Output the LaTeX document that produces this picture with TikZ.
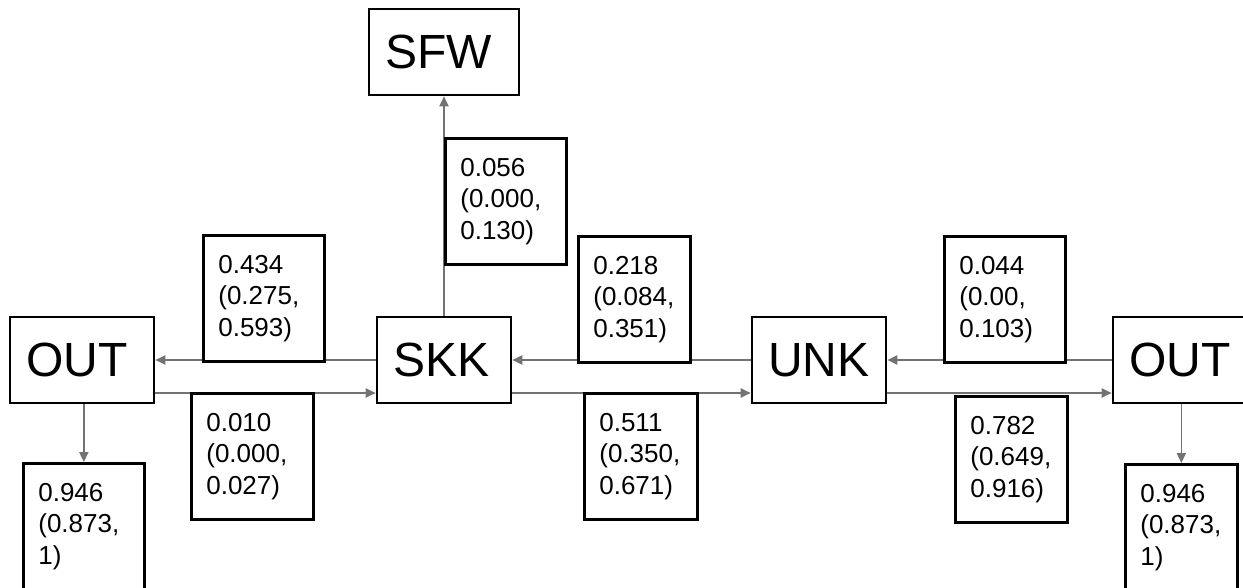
\documentclass[tikz,border=0pt]{standalone}
\usepackage{fontspec}
\setmainfont{Liberation Sans}
\usetikzlibrary{arrows.meta}

\tikzset{
    state/.style={draw, line width=1.35pt, align=left, inner xsep=8pt,
        minimum height=43pt, font=\fontsize{24}{28}\selectfont},
    prob/.style={draw, line width=1.35pt, fill=white, align=left, inner xsep=7.5pt,
        anchor=north west, minimum height=63pt,
        font=\fontsize{13}{15.8}\selectfont},
    link/.style={draw=black!55, line width=0.75pt, -{Triangle[length=5pt,width=4.6pt]}}
}

\begin{document}
\begin{tikzpicture}[x=0.5pt, y=-0.5pt]
    \useasboundingbox (0,0) rectangle (1243,588);
    \clip (0,0) rectangle (1243,588);

    % Main states
    \node[state, text width=56pt] (outl) at (82,360) {OUT};
    \node[state, text width=51pt] (skk) at (444,360) {SKK};
    \node[state, text width=59pt] (sfw) at (444,52) {SFW};
    \node[state, text width=51pt] (unk) at (819,360) {UNK};
    \node[state, text width=56pt] (outr) at (1185,360) {OUT};

    % Transitions
    \draw[link] (skk) -- (sfw);
    \draw[link] (skk.west) -- (outl.east);
    \draw[link] ([yshift=-16.5pt]outl.east) -- ([yshift=-16.5pt]skk.west);
    \draw[link] (unk.west) -- (skk.east);
    \draw[link] ([yshift=-16.5pt]skk.east) -- ([yshift=-16.5pt]unk.west);
    \draw[link] (outr.west) -- (unk.east);
    \draw[link] ([yshift=-16.5pt]unk.east) -- ([yshift=-16.5pt]outr.west);

    % Transition probabilities
    \node[prob, text width=45.5pt] (psfw) at (444,137) {0.056\\(0.000,\\0.130)};
    \node[prob, text width=45.5pt] (pskkout) at (202,234) {0.434\\(0.275,\\0.593)};
    \node[prob, text width=46pt] (poutskk) at (190,392) {0.010\\(0.000,\\0.027)};
    \node[prob, text width=41pt] (punkskk) at (577,235) {0.218\\(0.084,\\0.351)};
    \node[prob, text width=41.5pt] (pskkunk) at (583,392) {0.511\\(0.350,\\0.671)};
    \node[prob, text width=45.5pt] (poutunk) at (943,235) {0.044\\(0.00,\\0.103)};
    \node[prob, text width=41pt] (punkout) at (954,395) {0.782\\(0.649,\\0.916)};

    % Staying out
    \node[prob, text width=45.5pt] (pstayl) at (22,462) {0.946\\(0.873,\\1)};
    \node[prob, text width=41pt] (pstayr) at (1124,463) {0.946\\(0.873,\\1)};
    \draw[link] (pstayl.north |- outl.south) -- (pstayl.north);
    \draw[link] (pstayr.north |- outr.south) -- (pstayr.north);

\end{tikzpicture}
\end{document}
